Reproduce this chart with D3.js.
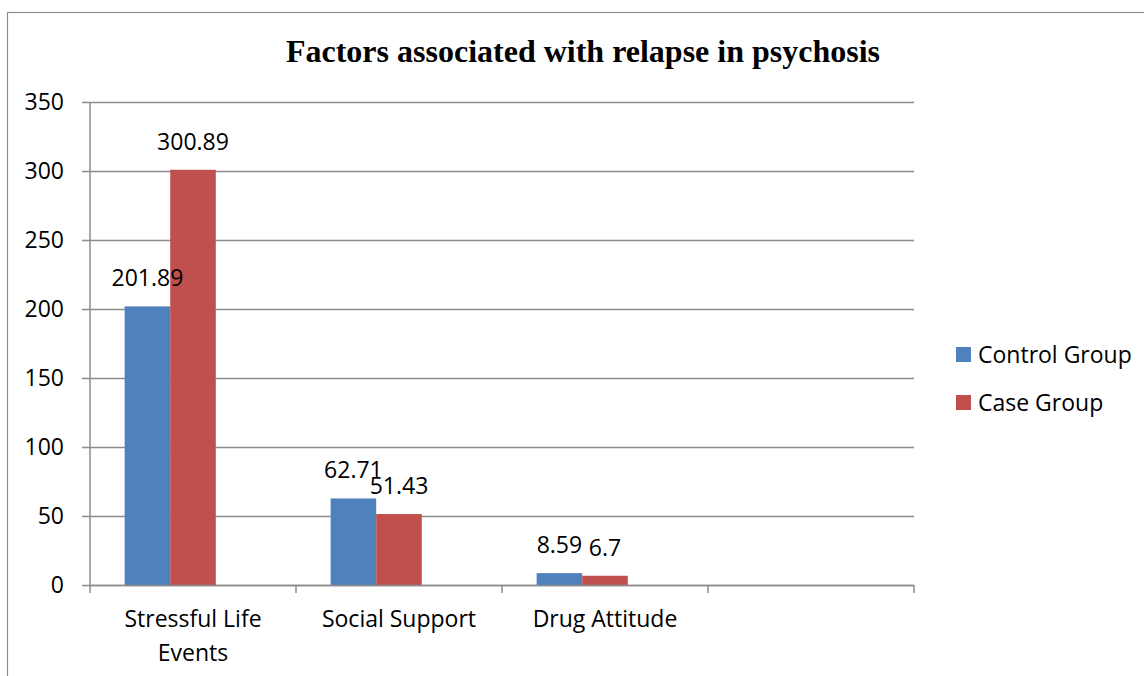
<!DOCTYPE html>
<html>
<head>
<meta charset="utf-8">
<script src="https://cdn.jsdelivr.net/npm/d3@7"></script>
<style>
html,body{margin:0;padding:0;background:#fff;}
svg{display:block;}
</style>
</head>
<body>
<svg id="chart" width="1144" height="676"></svg>
<script>
const title = "Factors associated with relapse in psychosis";
const categories = [["Stressful Life", "Events"], ["Social Support"], ["Drug Attitude"], [""]];
const categoryKeys = ["Stressful Life Events", "Social Support", "Drug Attitude", ""];
const seriesNames = ["Control Group", "Case Group"];
const controlValues = [201.89, 62.71, 8.59];
const caseValues = [300.89, 51.43, 6.7];
const seriesColors = ["#4F81BD", "#C0504D"];
const yTicks = [0, 50, 100, 150, 200, 250, 300, 350];

(function () {
const svg = d3.select("#chart");
const pLeft = 90, pRight = 914, pTop = 102, pBottom = 585;
const font = "'Open Sans', sans-serif";
const fs = 23;

// frame
svg.append("rect").attr("x", 7.5).attr("y", 12.5).attr("width", 1300).attr("height", 800)
  .attr("fill", "none").attr("stroke", "#8c8c8c").attr("stroke-width", 1.2);

const y = d3.scaleLinear().domain([0, 350]).range([pBottom, pTop]);
const x = d3.scaleBand().domain(categoryKeys).range([pLeft, pRight]).padding(0);
const sub = d3.scaleBand().domain([...seriesNames, "_"]).range([0, x.bandwidth()])
  .paddingInner(0).paddingOuter(0.76);

// gridlines
svg.append("g").selectAll("line").data(yTicks).join("line")
  .attr("x1", pLeft - 8).attr("x2", pRight)
  .attr("y1", d => Math.round(y(d)) + 0.5).attr("y2", d => Math.round(y(d)) + 0.5)
  .attr("stroke", "#8c8c8c").attr("stroke-width", 1.5);

// y axis line
svg.append("line").attr("x1", pLeft).attr("x2", pLeft).attr("y1", pTop).attr("y2", pBottom + 1)
  .attr("stroke", "#8c8c8c").attr("stroke-width", 1.5);

// y tick labels
svg.append("g").selectAll("text").data(yTicks).join("text")
  .attr("x", 64).attr("y", d => y(d)).attr("dy", "0.36em")
  .attr("text-anchor", "end").attr("font-family", font).attr("font-size", fs)
  .attr("fill", "#000").text(d => d);

// bars
const series = [controlValues, caseValues];
series.forEach((vals, si) => {
  const g = svg.append("g");
  g.selectAll("rect").data(vals).join("rect")
    .attr("x", (d, i) => x(categoryKeys[i]) + sub(seriesNames[si]))
    .attr("width", sub.bandwidth())
    .attr("y", d => y(d))
    .attr("height", d => y(0) - y(d))
    .attr("fill", seriesColors[si]);
});

// x axis line and ticks
svg.append("line").attr("x1", pLeft).attr("x2", pRight).attr("y1", pBottom + 0.5).attr("y2", pBottom + 0.5)
  .attr("stroke", "#8c8c8c").attr("stroke-width", 1.5);
const bounds = categoryKeys.map(k => x(k)).concat([pRight]);
svg.append("g").selectAll("line").data(bounds).join("line")
  .attr("x1", d => d).attr("x2", d => d).attr("y1", pBottom).attr("y2", pBottom + 8)
  .attr("stroke", "#8c8c8c").attr("stroke-width", 1.5);

// data labels
series.forEach((vals, si) => {
  svg.append("g").selectAll("text").data(vals).join("text")
    .attr("x", (d, i) => x(categoryKeys[i]) + sub(seriesNames[si]) + sub.bandwidth() / 2)
    .attr("y", d => y(d) - 20)
    .attr("text-anchor", "middle").attr("font-family", font).attr("font-size", fs)
    .attr("fill", "#000").text(d => d);
});

// category labels
categories.forEach((lines, i) => {
  const t = svg.append("text").attr("text-anchor", "middle").attr("font-family", font)
    .attr("font-size", fs).attr("fill", "#000");
  lines.forEach((ln, j) => {
    t.append("tspan").attr("x", x(categoryKeys[i]) + x.bandwidth() / 2)
      .attr("y", 627 + j * 34).text(ln);
  });
});

// title
svg.append("text").attr("x", 583).attr("y", 62).attr("text-anchor", "middle")
  .attr("font-family", "'Liberation Serif', 'Times New Roman', serif")
  .attr("font-weight", "bold").attr("font-size", 32).attr("fill", "#000").text(title);

// legend
const leg = svg.append("g").selectAll("g").data(seriesNames).join("g")
  .attr("transform", (d, i) => `translate(956, ${347 + i * 48})`);
leg.append("rect").attr("width", 15).attr("height", 15).attr("fill", (d, i) => seriesColors[i]);
leg.append("text").attr("x", 22).attr("y", 16).attr("font-family", font).attr("font-size", fs)
  .attr("fill", "#000").text(d => d);
})();
</script>
</body>
</html>
